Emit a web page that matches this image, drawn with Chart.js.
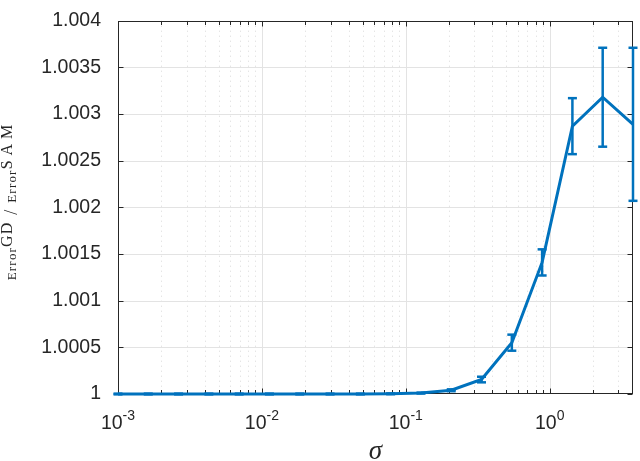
<!DOCTYPE html>
<html>
<head>
<meta charset="utf-8">
<script src="https://cdn.jsdelivr.net/npm/chart.js@4.4.1/dist/chart.umd.min.js"></script>
<style>
  html, body { margin: 0; padding: 0; background: #fff; }
  canvas { display: block; }
</style>
</head>
<body>
<canvas id="chart" width="640" height="461"></canvas>
<script>
/* ---------------- Data ---------------- */

// sigma (x, log scale)
const sigma = [0.001, 0.001623, 0.002636, 0.00428, 0.00695, 0.01128, 0.01832, 0.02975, 0.04831,
    0.07843, 0.1274, 0.2068, 0.3357, 0.5452, 0.8851, 1.437, 2.333, 3.789];

// Error^GD / Error^SAM
const ratio = [1.0, 1.0, 1.0, 1.0, 1.0, 1.0, 1.0, 1.0, 1.0,
    1.000002, 1.00001, 1.00004, 1.000155, 1.00055, 1.00141, 1.00287, 1.00318, 1.00289];

// half length of the error bars
const errHalf = [0.000004, 0.000004, 0.000004, 0.000004, 0.000004, 0.000004, 0.000004, 0.000004, 0.000004,
    0.000004, 0.000005, 0.00001, 0.00003, 0.000086, 0.00014, 0.0003, 0.00053, 0.00082];

const yTicks = [1, 1.0005, 1.001, 1.0015, 1.002, 1.0025, 1.003, 1.0035, 1.004];
const yTickLabels = ["1", "1.0005", "1.001", "1.0015", "1.002", "1.0025", "1.003", "1.0035", "1.004"];

const xDecades = [0.001, 0.01, 0.1, 1];
const xDecadeExp = ["-3", "-2", "-1", "0"];

const BLUE = "#0072BD";
const AXIS = "#262626";
const SANS = "'Liberation Sans', Arial, sans-serif";
const SERIF = "'Liberation Serif', 'DejaVu Serif', serif";

/* ---------------- Plugins ---------------- */

function seg(ctx, x1, y1, x2, y2) {
    ctx.beginPath();
    ctx.moveTo(x1, y1);
    ctx.lineTo(x2, y2);
    ctx.stroke();
}

// MATLAB-like grid, box and inward ticks
const matlabAxes = {
    id: "matlabAxes",
    beforeDatasetsDraw(chart) {
        const { ctx, chartArea: a, scales: { x, y } } = chart;
        ctx.save();
        ctx.lineWidth = 1;

        // minor x grid, dotted
        const minor = [];
        xDecades.forEach(d => {
            for (let m = 2; m <= 9; m++) {
                if (m * d < x.max) minor.push(m * d);
            }
        });
        ctx.strokeStyle = "#dadada";
        ctx.setLineDash([1, 4]);
        minor.forEach(v => {
            const px = Math.round(x.getPixelForValue(v)) + 0.5;
            seg(ctx, px, a.top, px, a.bottom);
        });

        // major grid, solid
        ctx.setLineDash([]);
        ctx.strokeStyle = "#e3e3e3";
        xDecades.slice(1).forEach(v => {
            const px = Math.round(x.getPixelForValue(v)) + 0.5;
            seg(ctx, px, a.top, px, a.bottom);
        });
        yTicks.slice(1, -1).forEach(v => {
            const py = Math.round(y.getPixelForValue(v)) + 0.5;
            seg(ctx, a.left, py, a.right, py);
        });

        // box
        ctx.strokeStyle = AXIS;
        const L = Math.round(a.left) + 0.5, R = Math.round(a.right) - 0.5;
        const T = Math.round(a.top) + 0.5, B = Math.round(a.bottom) - 0.5;
        ctx.strokeRect(L, T, R - L, B - T);

        // ticks
        yTicks.forEach(v => {
            const py = Math.round(y.getPixelForValue(v)) + 0.5;
            seg(ctx, L, py, L + 5, py);
            seg(ctx, R, py, R - 5, py);
        });
        xDecades.forEach(v => {
            const px = Math.round(x.getPixelForValue(v)) + 0.5;
            seg(ctx, px, B, px, B - 5);
            seg(ctx, px, T, px, T + 5);
        });
        minor.forEach(v => {
            const px = Math.round(x.getPixelForValue(v)) + 0.5;
            seg(ctx, px, B, px, B - 3.5);
            seg(ctx, px, T, px, T + 3.5);
        });
        ctx.restore();
    },

    afterDatasetsDraw(chart) {
        const { ctx, scales: { x, y } } = chart;
        ctx.save();
        ctx.strokeStyle = BLUE;
        ctx.lineWidth = 2.5;
        sigma.forEach((s, i) => {
            const px = x.getPixelForValue(s);
            const top = y.getPixelForValue(ratio[i] + errHalf[i]);
            const bot = y.getPixelForValue(ratio[i] - errHalf[i]);
            seg(ctx, px, top, px, bot);
            seg(ctx, px - 4.5, top, px + 4.5, top);
            seg(ctx, px - 4.5, bot, px + 4.5, bot);
        });
        ctx.restore();
    },

    afterDraw(chart) {
        const { ctx, chartArea: a, scales: { x } } = chart;
        ctx.save();
        ctx.fillStyle = AXIS;
        ctx.textBaseline = "alphabetic";
        ctx.textAlign = "left";

        // x tick labels 10^n
        xDecades.forEach((v, i) => {
            const px = x.getPixelForValue(v);
            ctx.font = `19.5px ${SANS}`;
            const wb = ctx.measureText("10").width;
            ctx.font = `14px ${SANS}`;
            const we = ctx.measureText(xDecadeExp[i]).width;
            const x0 = px - (wb + we) / 2;
            ctx.font = `19.5px ${SANS}`;
            ctx.fillText("10", x0, 429);
            ctx.font = `14px ${SANS}`;
            ctx.fillText(xDecadeExp[i], x0 + wb, 420);
        });

        // x title
        ctx.textAlign = "center";
        ctx.font = `italic 27px ${SERIF}`;
        ctx.fillText("\u03C3", (a.left + a.right) / 2, 459);

        // y title: Error^GD / Error^SAM
        const parts = [
            { t: "Error", size: 13, dy: 0, sp: 1.2, pad: 0 },
            { t: "GD", size: 16, dy: -4.5, sp: 1, pad: 0 },
            { t: "/", size: 18, dy: 1, sp: 0, pad: 7 },
            { t: "Error", size: 13, dy: 0, sp: 1.2, pad: 0 },
            { t: "SAM", size: 16, dy: -4.5, sp: 5, pad: 0 }
        ];
        ctx.textAlign = "left";
        let total = 0;
        parts.forEach(p => {
            ctx.font = `${p.size}px ${SERIF}`;
            ctx.letterSpacing = p.sp + "px";
            p.w = ctx.measureText(p.t).width + 2 * p.pad;
            total += p.w;
        });
        ctx.translate(16, 200);
        ctx.rotate(-Math.PI / 2);
        let cx = -total / 2;
        parts.forEach(p => {
            ctx.font = `${p.size}px ${SERIF}`;
            ctx.letterSpacing = p.sp + "px";
            ctx.fillText(p.t, cx + p.pad, p.dy);
            cx += p.w;
        });
        ctx.restore();
    }
};

/* ---------------- Chart ---------------- */

new Chart(document.getElementById("chart").getContext("2d"), {
    type: "line",
    data: {
        datasets: [{
            data: sigma.map((s, i) => ({ x: s, y: ratio[i] })),
            borderColor: BLUE,
            borderWidth: 3,
            pointRadius: 0,
            tension: 0,
            fill: false,
            clip: 6
        }]
    },
    options: {
        responsive: false,
        animation: false,
        layout: { padding: { left: 0, top: 6, right: 7, bottom: 0 } },
        plugins: {
            legend: { display: false },
            tooltip: { enabled: false }
        },
        scales: {
            x: {
                type: "logarithmic",
                min: 0.001,
                max: 3.789,
                grid: { display: false },
                border: { display: false },
                ticks: { display: false },
                afterFit(scale) { scale.height = 67; }
            },
            y: {
                type: "linear",
                min: 1,
                max: 1.004,
                grid: { display: false },
                border: { display: false },
                afterBuildTicks(scale) {
                    scale.ticks = yTicks.map(v => ({ value: v }));
                },
                ticks: {
                    padding: 9,
                    color: AXIS,
                    font: { family: SANS, size: 19.5 },
                    callback(value, index) {
                        return yTickLabels[index];
                    }
                },
                afterFit(scale) { scale.width = 118; }
            }
        }
    },
    plugins: [matlabAxes]
});
</script>
</body>
</html>
